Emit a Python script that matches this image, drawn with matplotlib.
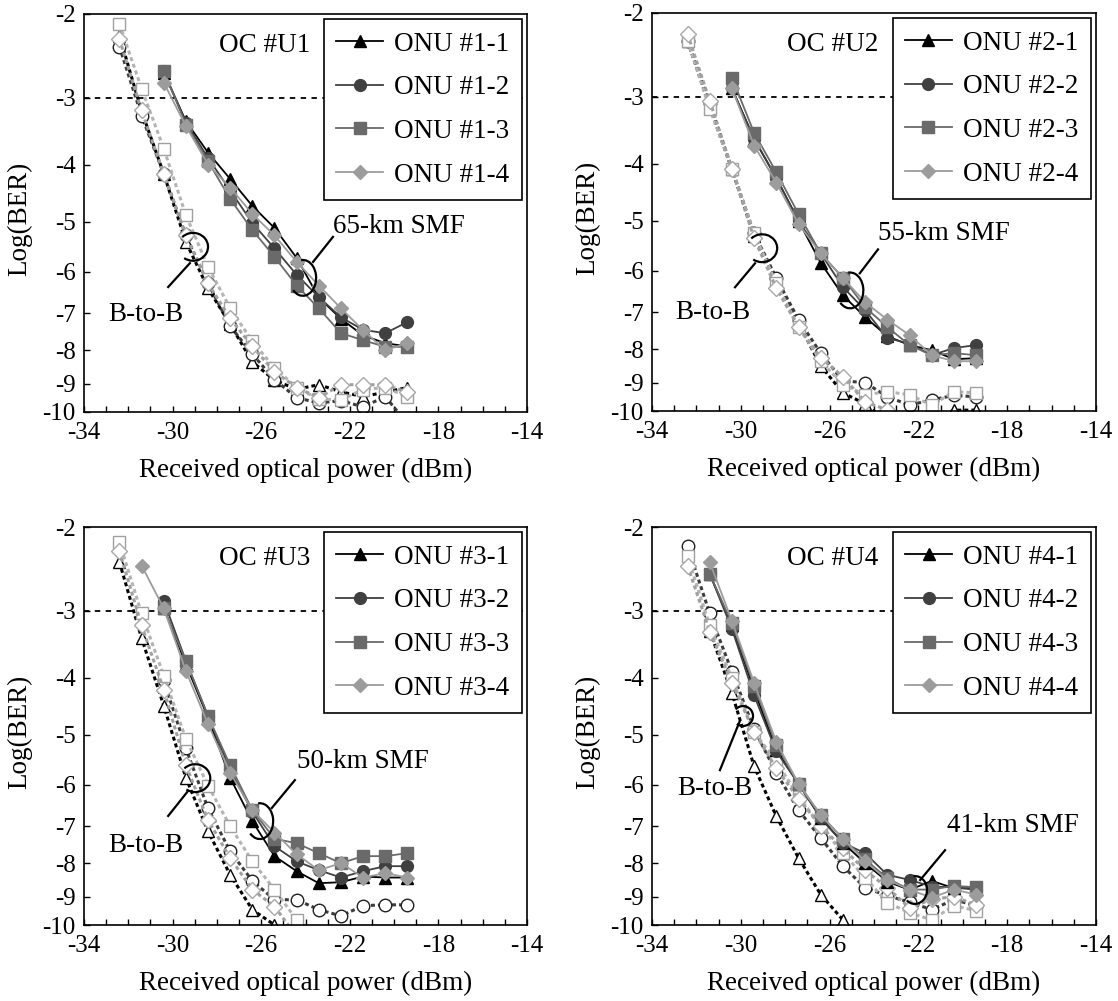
import numpy as np
import matplotlib
matplotlib.use("Agg")
import matplotlib.pyplot as plt
from matplotlib.patches import Arc
from matplotlib.lines import Line2D
from matplotlib.ticker import MultipleLocator, FixedLocator

plt.rcParams['font.family'] = ['Liberation Serif', 'DejaVu Serif']
plt.rcParams['axes.unicode_minus'] = False

# Received optical power grid (dBm)
power = [-32.4, -31.4, -30.4, -29.4, -28.4, -27.4, -26.4, -25.4,
         -24.4, -23.4, -22.4, -21.4, -20.4, -19.4]
nan = np.nan

# ---- OC #U1 : 65-km SMF ----
u1_onu = {
    "ONU #1-1": [nan, nan, -2.70, -3.35, -3.82, -4.25, -4.72, -5.12, -5.72, -6.62, -7.15, -7.60, -7.81, -7.90],
    "ONU #1-2": [nan, nan, -2.68, -3.37, -3.90, -4.45, -5.02, -5.53, -6.07, -6.61, -7.11, -7.45, -7.54, -7.24],
    "ONU #1-3": [nan, nan, -2.68, -3.40, -3.95, -4.60, -5.16, -5.70, -6.33, -6.88, -7.54, -7.73, -7.91, -7.91],
    "ONU #1-4": [nan, nan, -2.82, -3.42, -4.00, -4.40, -4.86, -5.27, -5.80, -6.33, -6.88, -7.46, -8.00, -7.81],
}
u1_b2b = [
    [-2.26, -3.20, -4.16, -5.40, -6.40, -7.30, -8.35, -8.90, -9.20, -9.04, -9.29, -9.46, -9.30, -9.14],
    [-2.39, -3.27, -4.16, -5.27, -6.28, -7.35, -8.12, -8.88, -9.50, -9.68, -9.60, -9.82, -9.46, -10.4],
    [-2.12, -2.89, -3.76, -4.88, -5.90, -6.88, -7.76, -8.53, -9.14, -9.55, -9.57, -9.21, -9.14, -9.46],
    [-2.30, -3.19, -4.16, -5.27, -6.28, -7.14, -7.90, -8.65, -9.14, -9.50, -9.04, -9.04, -9.04, -9.30],
]

# ---- OC #U2 : 55-km SMF ----
u2_onu = {
    "ONU #2-1": [nan, nan, -2.90, -3.63, -4.25, -5.00, -5.84, -6.59, -7.13, -7.65, -7.89, -8.03, -8.30, -8.27],
    "ONU #2-2": [nan, nan, -2.90, -3.63, -4.25, -5.00, -5.65, -6.39, -6.95, -7.70, -7.85, -8.18, -7.97, -7.89],
    "ONU #2-3": [nan, nan, -2.77, -3.54, -4.15, -4.88, -5.65, -6.17, -6.88, -7.40, -7.89, -8.18, -8.12, -8.18],
    "ONU #2-4": [nan, nan, -2.90, -3.73, -4.33, -5.06, -5.65, -6.17, -6.76, -7.20, -7.62, -8.18, -8.36, -8.36],
}
u2_b2b = [
    [-2.33, -3.15, -4.10, -5.30, -6.25, -7.30, -8.50, -9.36, -9.75, -10.4, -10.4, -10.3, -9.97, -9.97],
    [-2.33, -3.10, -4.09, -5.25, -6.17, -7.20, -8.12, -8.95, -9.00, -9.50, -9.79, -9.61, -9.45, -9.50],
    [-2.33, -3.18, -4.09, -5.25, -6.30, -7.40, -8.36, -9.07, -9.43, -9.32, -9.43, -9.80, -9.32, -9.36],
    [-2.25, -3.06, -4.09, -5.35, -6.42, -7.40, -8.26, -8.82, -9.68, -9.96, -10.4, -10.4, -10.4, -10.4],
]

# ---- OC #U3 : 50-km SMF ----
u3_onu = {
    "ONU #3-1": [nan, nan, -2.97, -3.80, -4.70, -5.86, -6.88, -7.81, -8.24, -8.60, -8.57, -8.40, -8.43, -8.43],
    "ONU #3-2": [nan, nan, -2.88, -3.75, -4.67, -5.70, -6.65, -7.54, -7.95, -8.21, -8.43, -8.24, -8.09, -8.09],
    "ONU #3-3": [nan, nan, -2.97, -3.75, -4.67, -5.61, -6.61, -7.34, -7.46, -7.73, -8.00, -7.81, -7.81, -7.73],
    "ONU #3-4": [nan, -2.46, -2.97, -3.90, -4.81, -5.76, -6.61, -7.17, -7.76, -8.21, -8.00, -8.43, -8.30, -8.43],
}
u3_b2b = [
    [-2.42, -3.41, -4.49, -5.86, -7.14, -8.35, -9.46, -10.0, -10.6, nan, nan, nan, nan, nan],
    [nan, nan, -4.05, -5.27, -6.57, -7.68, -8.53, -9.11, -9.11, -9.46, -9.68, -9.32, -9.29, -9.29],
    [-2.18, -3.04, -3.97, -5.08, -6.02, -7.00, -7.95, -8.79, -9.82, -10.4, nan, nan, nan, nan],
    [-2.29, -3.22, -4.21, -5.61, -6.85, -7.86, -8.79, -9.35, -10.4, nan, nan, nan, nan, nan],
]

# ---- OC #U4 : 41-km SMF ----
u4_onu = {
    "ONU #4-1": [nan, -2.56, -3.22, -4.21, -5.30, -5.98, -6.80, -7.45, -8.00, -8.55, -8.80, -8.53, -8.75, -8.75],
    "ONU #4-2": [nan, -2.56, -3.27, -4.31, -5.33, -5.98, -6.80, -7.45, -7.73, -8.35, -8.50, -8.70, -8.72, -8.80],
    "ONU #4-3": [nan, -2.56, -3.19, -4.15, -5.20, -5.98, -6.73, -7.34, -7.90, -8.45, -8.79, -8.79, -8.68, -8.72],
    "ONU #4-4": [nan, -2.42, -3.15, -4.09, -5.14, -5.98, -6.73, -7.34, -7.95, -8.50, -8.79, -9.04, -8.79, -8.94],
}
u4_b2b = [
    [nan, -3.30, -4.27, -5.63, -6.76, -7.86, -8.94, -9.82, -10.6, nan, nan, nan, nan, nan],
    [-2.23, -3.04, -3.91, -4.90, -5.76, -6.61, -7.32, -8.09, -8.74, -8.97, -9.20, -9.46, -9.11, -9.32],
    [-2.35, -3.22, -4.01, -4.95, -5.53, -6.28, -7.00, -7.73, -8.43, -9.21, -9.57, -9.82, -9.32, -9.50],
    [-2.46, -3.31, -4.09, -4.95, -5.67, -6.33, -7.00, -7.60, -8.21, -8.74, -9.39, -9.10, -9.00, -9.30],
]

panel_titles = ["OC #U1", "OC #U2", "OC #U3", "OC #U4"]
fiber_labels = ["65-km SMF", "55-km SMF", "50-km SMF", "41-km SMF"]
onu_sets = [u1_onu, u2_onu, u3_onu, u4_onu]
b2b_sets = [u1_b2b, u2_b2b, u3_b2b, u4_b2b]

# Log(BER) axis: relative spacing of the decade ticks on the BER scale
ber_ticks = [-10, -9, -8, -7, -6, -5, -4, -3, -2]
ber_span = [0.0, 28.5, 62.0, 99.0, 140.5, 190.5, 248.0, 315.0, 399.0]


def _extrap(v, xs, ys):
    v = np.asarray(v, dtype=float)
    lo = (ys[1] - ys[0]) / (xs[1] - xs[0])
    hi = (ys[-1] - ys[-2]) / (xs[-1] - xs[-2])
    mid = np.interp(v, xs, ys)
    return np.where(v < xs[0], ys[0] + (v - xs[0]) * lo,
                    np.where(v > xs[-1], ys[-1] + (v - xs[-1]) * hi, mid))


def ber_forward(v):
    return _extrap(v, ber_ticks, ber_span)


def ber_inverse(v):
    return _extrap(v, ber_span, ber_ticks)


onu_colors = ["#000000", "#404040", "#6a6a6a", "#9c9c9c"]
onu_markers = ["^", "o", "s", "D"]
onu_msize = [8.5, 8.5, 8, 7.5]
b2b_line_colors = ["#000000", "#3c3c3c", "#b4b4b4", "#a0a0a0"]
b2b_edge_colors = ["#000000", "#202020", "#a0a0a0", "#a8a8a8"]

FS = 19.5
TFS = 18

W, H = 1118, 1001
fig = plt.figure(figsize=(W / 100, H / 100), dpi=100)

boxes = [(84, 14, 443, 398), (652, 13, 444, 398),
         (84, 527, 443, 398), (652, 527, 444, 398)]

# annotation layout in axes fractions
ann = [
    dict(fib=(0.562, 0.465), bb=(0.054, 0.244),
         arc_b=(0.246, 0.415, 0.068, 0.070), lead_b=((0.239, 0.374), (0.190, 0.314)),
         arc_f=(0.494, 0.337, 0.060, 0.090), lead_f=((0.517, 0.377), (0.562, 0.440))),
    dict(fib=(0.509, 0.446), bb=(0.052, 0.248),
         arc_b=(0.248, 0.409, 0.068, 0.070), lead_b=((0.232, 0.371), (0.187, 0.311)),
         arc_f=(0.446, 0.303, 0.060, 0.090), lead_f=((0.468, 0.346), (0.509, 0.406))),
    dict(fib=(0.481, 0.412), bb=(0.054, 0.201),
         arc_b=(0.251, 0.369, 0.068, 0.070), lead_b=((0.235, 0.337), (0.190, 0.274)),
         arc_f=(0.397, 0.261, 0.060, 0.090), lead_f=((0.424, 0.294), (0.476, 0.364))),
    dict(fib=(0.664, 0.249), bb=(0.056, 0.344),
         arc_b=(0.205, 0.525, 0.045, 0.050), lead_b=((0.153, 0.389), (0.198, 0.513)),
         arc_f=(0.592, 0.088, 0.055, 0.070), lead_f=((0.604, 0.113), (0.660, 0.188))),
]

for i in range(4):
    x0, y0, w, h = boxes[i]
    ax = fig.add_axes([x0 / W, 1 - (y0 + h) / H, w / W, h / H])
    ax.set_yscale('function', functions=(ber_forward, ber_inverse))
    ax.set_xlim(-34, -14)
    ax.set_ylim(-10, -2)

    # reference line at the FEC limit
    ax.axhline(-3, color='black', lw=1.3, ls=(0, (3, 3)), zorder=1)

    # back-to-back curves (open markers, dotted lines)
    for k, ys in enumerate(b2b_sets[i]):
        ax.plot(power, ys, ls=(0, (1.3, 1.0)), lw=2.2, color=b2b_line_colors[k],
                marker=onu_markers[k], ms=onu_msize[k] + 0.5, mfc='white',
                mec=b2b_edge_colors[k], mew=1.0, zorder=2 + k * 0.1)

    # transmission curves (filled markers, solid lines)
    handles = []
    for k, (name, ys) in enumerate(onu_sets[i].items()):
        ln, = ax.plot(power, ys, ls='-', lw=1.3, color=onu_colors[k],
                      marker=onu_markers[k], ms=onu_msize[k], mfc=onu_colors[k],
                      mec=onu_colors[k], zorder=4 + k * 0.1, label=name)
        handles.append(ln)

    leg = ax.legend(handles=handles, loc='upper right', bbox_to_anchor=(1, 1),
                    borderaxespad=0.2, fontsize=FS, frameon=True, fancybox=False,
                    edgecolor='black', framealpha=1, handlelength=1.75,
                    handletextpad=0.4, labelspacing=0.69, borderpad=0.45)
    leg.get_frame().set_linewidth(1.2)
    leg.set_zorder(10)

    ax.text(0.51, 0.922, panel_titles[i], transform=ax.transAxes,
            ha='right', va='center', fontsize=FS, zorder=11)

    a = ann[i]
    ax.text(a['fib'][0], a['fib'][1], fiber_labels[i], transform=ax.transAxes,
            ha='left', va='center', fontsize=FS)
    ax.text(a['bb'][0], a['bb'][1], "B-to-B", transform=ax.transAxes,
            ha='left', va='center', fontsize=FS)
    for key_arc, key_lead, t1, t2 in (("arc_b", "lead_b", -125, 135),
                                      ("arc_f", "lead_f", -125, 95)):
        cx, cy, aw, ah = a[key_arc]
        ax.add_patch(Arc((cx, cy), aw, ah, theta1=t1, theta2=t2,
                         transform=ax.transAxes, color='black', lw=1.6, zorder=12))
        (p, q) = a[key_lead]
        ax.add_line(Line2D([p[0], q[0]], [p[1], q[1]], transform=ax.transAxes,
                           color='black', lw=1.6, zorder=12))

    ax.xaxis.set_major_locator(MultipleLocator(4))
    ax.xaxis.set_minor_locator(MultipleLocator(1))
    ax.yaxis.set_major_locator(FixedLocator(ber_ticks))
    ax.yaxis.set_minor_locator(FixedLocator([]))
    ax.set_yticklabels([str(t) for t in ber_ticks])
    ax.set_xticks([-34, -30, -26, -22, -18, -14])
    ax.set_xticklabels(["-34", "-30", "-26", "-22", "-18", "-14"])
    ax.tick_params(which='both', direction='in', length=4, width=1.0,
                   labelsize=TFS, top=False, right=False)
    ax.tick_params(axis='x', pad=7)
    ax.tick_params(axis='y', pad=6)
    for s in ax.spines.values():
        s.set_linewidth(1.2)

    ax.set_xlabel("Received optical power (dBm)", fontsize=FS)
    ax.set_ylabel("Log(BER)", fontsize=FS)
    ax.xaxis.set_label_coords(0.5, -58 / h)
    ax.yaxis.set_label_coords(-64 / w, 0.485)
    ax.xaxis.label.set_va('center')
    ax.yaxis.label.set_va('center')

fig.savefig("out.png", dpi=100)
